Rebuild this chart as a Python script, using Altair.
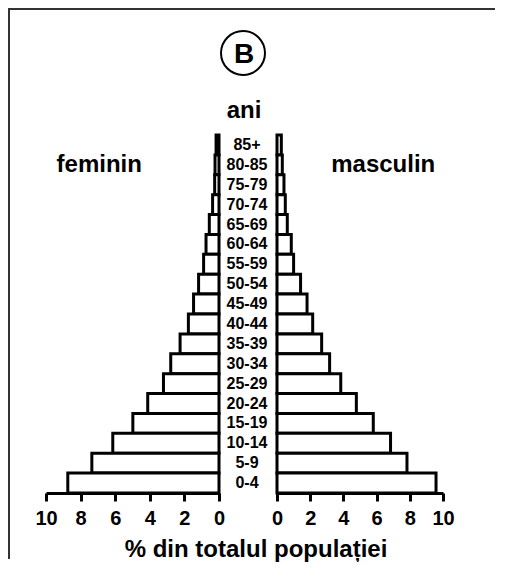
import altair as alt
import pandas as pd

# ---- data ----
ages = ["85+", "80-85", "75-79", "70-74", "65-69", "60-64", "55-59", "50-54", "45-49",
        "40-44", "35-39", "30-34", "25-29", "20-24", "15-19", "10-14", "5-9", "0-4"]
female = [0.17, 0.23, 0.25, 0.37, 0.56, 0.75, 0.89, 1.18, 1.47,
          1.77, 2.25, 2.79, 3.21, 4.12, 4.98, 6.14, 7.35, 8.74]
male = [0.26, 0.32, 0.42, 0.50, 0.62, 0.86, 1.00, 1.42, 1.81,
        2.15, 2.69, 3.17, 3.84, 4.78, 5.80, 6.84, 7.83, 9.58]
ticks = [0, 2, 4, 6, 8, 10]
side_female = "feminin"
side_male = "masculin"
axis_title = "% din totalul populației"
age_title = "ani"
panel_letter = "B"

FONT = "Liberation Sans"
H = 358

df = pd.DataFrame({"age": ages, "female": female, "male": male})

yscale = alt.Scale(domain=ages, paddingInner=0, paddingOuter=0)
yenc = alt.Y("age:N", scale=yscale, axis=None)


def xaxis():
    return alt.Axis(values=ticks, title=None, grid=False, labelFont=FONT, labelFontSize=20,
                    labelFontWeight="bold", labelColor="black", labelPadding=7,
                    labelFlush=False, labelAngle=0, tickSize=8, tickWidth=3,
                    tickColor="black", domainWidth=3, domainColor="black")


lscale = alt.Scale(domain=[0, 10], reverse=True, nice=False)
rscale = alt.Scale(domain=[0, 10], nice=False)

one = pd.DataFrame({"k": [0]})

# ---- left (female) panel ----
left_bars = alt.Chart(df).mark_bar(fill="white", stroke="black", strokeWidth=3).encode(
    x=alt.X("female:Q", scale=lscale, axis=xaxis()), y=yenc)

fem_df = pd.DataFrame({"age": ["80-85"], "female": [6.92], "t": [side_female]})
fem_text = alt.Chart(fem_df).mark_text(font=FONT, fontSize=24, fontWeight="bold",
                                       align="center", baseline="middle", color="black").encode(
    x=alt.X("female:Q", scale=lscale, axis=xaxis()), y=yenc, text="t:N")

# page frame (top and left edges), drawn as thin filled rectangles
frame_v = alt.Chart(one).mark_rect(color="#333333", strokeWidth=0).encode(
    x=alt.value(-38), x2=alt.value(-36), y=alt.value(-127), y2=alt.value(424))
frame_h = alt.Chart(one).mark_rect(color="#333333", strokeWidth=0).encode(
    x=alt.value(-38), x2=alt.value(449), y=alt.value(-127), y2=alt.value(-125))

left = alt.layer(left_bars, fem_text, frame_v, frame_h).properties(width=173, height=H)

# ---- middle panel: age labels and titles ----
mid_labels = alt.Chart(df).mark_text(font=FONT, fontSize=16, fontWeight="bold",
                                     align="center", baseline="middle", color="black").encode(
    y=yenc, x=alt.value(28), text="age:N")

circle = alt.Chart(one).mark_point(shape="circle", size=1936, filled=False,
                                   stroke="black", strokeWidth=2, opacity=1).encode(
    x=alt.value(24), y=alt.value(-82))
letter = alt.Chart(pd.DataFrame({"t": [panel_letter]})).mark_text(
    font=FONT, fontSize=28, fontWeight="bold", align="center", baseline="alphabetic",
    color="black").encode(x=alt.value(25), y=alt.value(-72), text="t:N")
ani = alt.Chart(pd.DataFrame({"t": [age_title]})).mark_text(
    font=FONT, fontSize=24, fontWeight="bold", align="center", baseline="alphabetic",
    color="black").encode(x=alt.value(25), y=alt.value(-17), text="t:N")
xtitle = alt.Chart(pd.DataFrame({"t": [axis_title]})).mark_text(
    font=FONT, fontSize=24, fontWeight="bold", align="center", baseline="alphabetic",
    color="black").encode(x=alt.value(37), y=alt.value(422), text="t:N")

mid = alt.layer(mid_labels, circle, letter, ani, xtitle).properties(width=58, height=H)

# ---- right (male) panel ----
right_bars = alt.Chart(df).mark_bar(fill="white", stroke="black", strokeWidth=3).encode(
    x=alt.X("male:Q", scale=rscale, axis=xaxis()), y=yenc)
mal_df = pd.DataFrame({"age": ["80-85"], "male": [6.40], "t": [side_male]})
mal_text = alt.Chart(mal_df).mark_text(font=FONT, fontSize=24, fontWeight="bold",
                                       align="center", baseline="middle", color="black").encode(
    x=alt.X("male:Q", scale=rscale, axis=xaxis()), y=yenc, text="t:N")

right = alt.layer(right_bars, mal_text).properties(width=166, height=H)

chart = alt.hconcat(left, mid, right, spacing=0, bounds="flush").resolve_scale(
    x="independent", y="independent").properties(padding=0).configure_view(strokeWidth=0)

chart.save("out.html", embed_options={"renderer": "svg", "actions": False})
